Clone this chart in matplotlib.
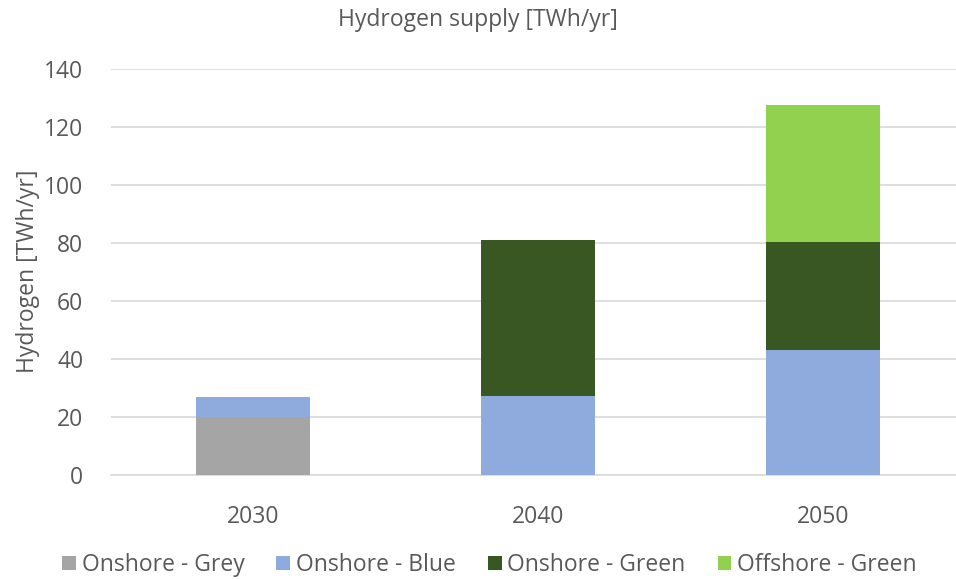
import matplotlib.pyplot as plt
import numpy as np

years = ["2030", "2040", "2050"]
onshore_grey = [20.0, 0.0, 0.0]
onshore_blue = [6.8, 27.2, 43.1]
onshore_green = [0.0, 53.7, 37.2]
offshore_green = [0.0, 0.0, 47.3]

series = [
    ("Onshore - Grey", onshore_grey, "#a5a5a5"),
    ("Onshore - Blue", onshore_blue, "#8faadc"),
    ("Onshore - Green", onshore_green, "#385723"),
    ("Offshore - Green", offshore_green, "#92d050"),
]

plt.rcParams['font.family'] = ['Open Sans', 'DejaVu Sans']
txt = "#595959"
fs = 16.5

fig = plt.figure(figsize=(9.56, 5.79), dpi=100)
ax = fig.add_axes([111 / 956, 104.3 / 579, 845 / 956, 406 / 579])

x = np.arange(len(years))
bottom = np.zeros(len(years))
handles = []
for name, vals, col in series:
    vals = np.array(vals)
    b = ax.bar(x, vals, width=0.40, bottom=bottom, color=col, label=name, zorder=3)
    handles.append(b)
    bottom += vals

ax.set_xlim(-0.5, 2.465)
ax.set_ylim(0, 140)
ax.set_yticks(range(0, 141, 20))
ax.set_xticks(x)
ax.set_xticklabels(years)
ax.yaxis.grid(True, color="#d9d9d9", linewidth=1.2, zorder=0)
ax.tick_params(axis="both", length=0, labelsize=fs, colors=txt)
ax.tick_params(axis="x", pad=22)
ax.tick_params(axis="y", pad=20)
for s in ["top", "right", "left"]:
    ax.spines[s].set_visible(False)
ax.spines["bottom"].set_color("#d9d9d9")
ax.spines["bottom"].set_linewidth(1.2)

ax.set_ylabel("Hydrogen [TWh/yr]", fontsize=fs, color=txt, labelpad=3)
fig.text(0.5, 1 - 20 / 579, "Hydrogen supply [TWh/yr]", ha="center", va="center",
         fontsize=fs, color=txt)

fig.legend(handles=handles, loc="center", bbox_to_anchor=(0.512, 1 - 565 / 579), ncol=4,
           frameon=False, fontsize=fs, labelcolor=txt, handlelength=0.6,
           handleheight=0.6, handletextpad=0.25, columnspacing=1.4)

fig.savefig("out.png", dpi=100)
